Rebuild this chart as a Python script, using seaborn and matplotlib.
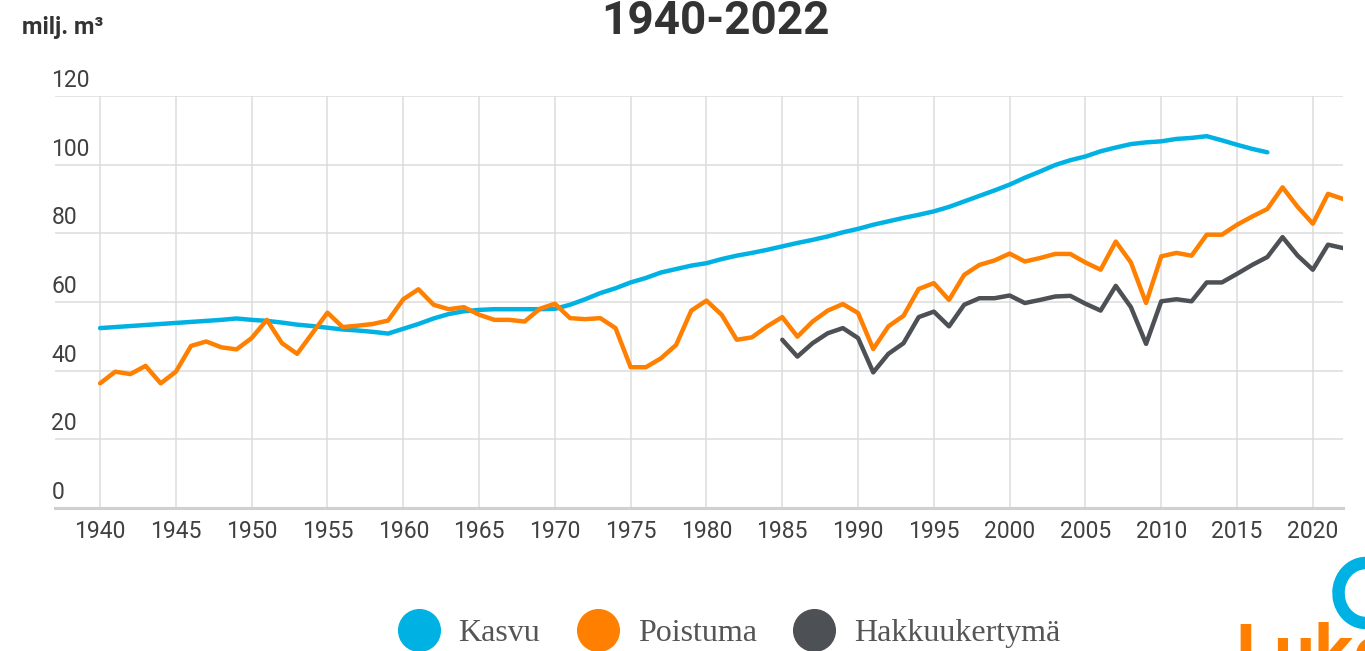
import matplotlib
matplotlib.use("Agg")
import matplotlib.pyplot as plt
import matplotlib.transforms as mtransforms
from matplotlib.lines import Line2D
from matplotlib.patches import Arc
import pandas as pd
import seaborn as sns

# values (milj. m3 per year)
kasvu = [52.4, 52.7, 53.0, 53.3, 53.6, 53.9, 54.2, 54.5, 54.8, 55.2,
         54.8, 54.5, 54.0, 53.4, 53.0, 52.5, 52.0, 51.7, 51.3, 50.8,
         52.2, 53.6, 55.2, 56.5, 57.3, 57.7, 57.9, 57.9, 57.9, 57.9,
         58.0, 59.2, 60.8, 62.6, 64.0, 65.7, 67.0, 68.6, 69.6, 70.6,
         71.3, 72.5, 73.5, 74.3, 75.2, 76.2, 77.2, 78.1, 79.1, 80.3,
         81.3, 82.5, 83.5, 84.5, 85.4, 86.4, 87.7, 89.3, 90.9, 92.5,
         94.2, 96.2, 98.0, 99.9, 101.3, 102.4, 103.9, 105.0, 106.0, 106.5,
         106.8, 107.5, 107.8, 108.3, 107.1, 105.8, 104.6, 103.6]
kasvu_start = 1940

poistuma = [36.3, 39.7, 39.0, 41.4, 36.3, 39.7, 47.2, 48.5, 46.8, 46.2,
            49.5, 54.8, 48.0, 44.9, 50.9, 56.9, 52.7, 53.1, 53.6, 54.6,
            60.8, 63.7, 59.2, 57.9, 58.5, 56.3, 54.8, 54.8, 54.3, 58.0,
            59.5, 55.3, 55.0, 55.3, 52.4, 41.0, 41.0, 43.6, 47.5, 57.5,
            60.4, 56.3, 49.0, 49.7, 52.9, 55.6, 49.9, 54.3, 57.5, 59.4,
            56.8, 46.3, 52.9, 56.0, 63.8, 65.5, 60.6, 67.9, 70.8, 72.1,
            74.1, 71.8, 72.8, 74.0, 74.0, 71.5, 69.4, 77.6, 71.5, 59.7,
            73.3, 74.3, 73.5, 79.6, 79.6, 82.5, 84.9, 87.1, 93.4, 87.7,
            82.8, 91.5, 90.0]
poistuma_start = 1940

hakkuu = [49.0, 44.1, 48.0, 50.9, 52.4, 49.5, 39.5, 44.9, 48.0, 55.6,
          57.2, 52.9, 59.2, 61.1, 61.1, 61.9, 59.7, 60.6, 61.6, 61.8,
          59.5, 57.5, 64.7, 58.5, 47.8, 60.2, 60.8, 60.2, 65.7, 65.7,
          68.2, 70.8, 73.1, 78.9, 73.5, 69.4, 76.7, 75.7]
hakkuu_start = 1985

series_names = ["Kasvu", "Poistuma", "Hakkuukertymä"]
colors = ["#00b2e3", "#ff8000", "#4d5055"]
xticks = list(range(1940, 2021, 5))
yticks = list(range(0, 121, 20))

frames = []
for name, vals, start in zip(series_names, [kasvu, poistuma, hakkuu],
                             [kasvu_start, poistuma_start, hakkuu_start]):
    frames.append(pd.DataFrame({"vuosi": range(start, start + len(vals)),
                                "arvo": vals, "sarja": name}))
df = pd.concat(frames, ignore_index=True)

sns.set_style("white")
plt.rcParams["font.family"] = ["Roboto", "DejaVu Sans"]

fig = plt.figure(figsize=(13.65, 6.51), dpi=100)
ax = fig.add_axes([0.040, 0.2197, 0.944, 0.6328])

for name, col in zip(series_names, colors):
    sns.lineplot(data=df[df["sarja"] == name], x="vuosi", y="arvo",
                 color=col, linewidth=3.2, ax=ax, legend=False)

ax.set_xlim(1937, 2022)
ax.set_ylim(0, 120)
ax.set_xticks(xticks)
ax.set_xticklabels([str(t) for t in xticks], fontsize=16.5, color="#404040")
ax.set_yticks(yticks)
ax.set_yticklabels([])
ax.tick_params(axis="both", length=0)
ax.tick_params(axis="x", pad=9)
ax.grid(True, color="#dcdcdc", linewidth=1.1)
ax.set_xlabel("")
ax.set_ylabel("")
for s in ["top", "right", "left"]:
    ax.spines[s].set_visible(False)
ax.spines["bottom"].set_color("#d0d0d0")
ax.spines["bottom"].set_linewidth(2.2)

# y labels sit above their gridlines
trans = mtransforms.offset_copy(ax.get_yaxis_transform(), fig=fig, y=4, units="dots")
for v in yticks:
    ax.text(-0.0025, v, str(v), transform=trans, ha="left", va="bottom",
            fontsize=16.5, color="#404040")

fig.text(0.524, 0.968, "1940-2022", ha="center", va="center",
         fontsize=33, fontweight="bold", color="#333333")
fig.text(0.016, 0.958, "milj. m³", ha="left", va="center",
         fontsize=17, fontweight="bold", color="#333333")

handles = [Line2D([], [], marker="o", linestyle="none", markersize=30,
                  markerfacecolor=c, markeredgecolor=c) for c in colors]
leg = fig.legend(handles, series_names, loc="center", bbox_to_anchor=(0.53, 0.027),
                 ncol=3, frameon=False, handletextpad=0.25, columnspacing=0.8,
                 prop={"family": "Liberation Serif", "size": 23})
for t in leg.get_texts():
    t.set_color("#555555")

# Luke logo, cut off at the corner as in the original
fig.text(0.905, 0.045, "Luke", ha="left", va="top", fontsize=52,
         fontweight="bold", color="#ff8000")
fig.add_artist(Arc((13.66, 0.58), 0.55, 0.6, theta1=90, theta2=300,
                   transform=fig.dpi_scale_trans, color="#00b2e3", linewidth=9))

fig.savefig("out.png", dpi=100)
